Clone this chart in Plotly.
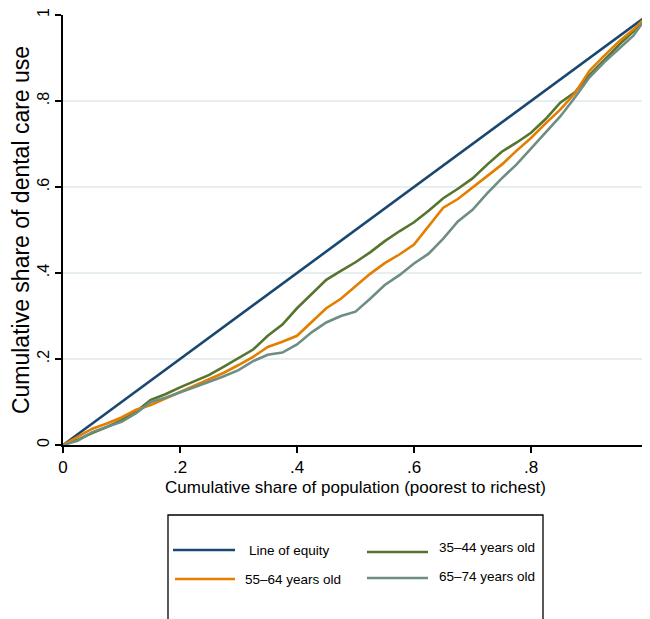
import plotly.graph_objects as go

# ---- data ----
pop_share = [0.0, 0.025, 0.05, 0.075, 0.1, 0.125, 0.15, 0.175, 0.2, 0.225,
             0.25, 0.275, 0.3, 0.325, 0.35, 0.375, 0.4, 0.425, 0.45, 0.475,
             0.5, 0.525, 0.55, 0.575, 0.6, 0.625, 0.65, 0.675, 0.7, 0.725,
             0.75, 0.775, 0.8, 0.825, 0.85, 0.875, 0.9, 0.925, 0.95, 0.975, 1.0]

age_35_44 = [0.0, 0.012, 0.028, 0.042, 0.058, 0.078, 0.105, 0.118, 0.134, 0.148,
             0.163, 0.182, 0.203, 0.222, 0.254, 0.280, 0.318, 0.352, 0.384, 0.405,
             0.425, 0.448, 0.474, 0.497, 0.518, 0.545, 0.574, 0.596, 0.620, 0.652,
             0.682, 0.703, 0.726, 0.758, 0.796, 0.820, 0.860, 0.895, 0.930, 0.962, 1.0]

age_55_64 = [0.0, 0.020, 0.038, 0.050, 0.064, 0.082, 0.093, 0.108, 0.123, 0.138,
             0.152, 0.168, 0.186, 0.205, 0.228, 0.240, 0.254, 0.285, 0.318, 0.340,
             0.368, 0.398, 0.423, 0.443, 0.466, 0.508, 0.552, 0.572, 0.598, 0.625,
             0.652, 0.684, 0.714, 0.748, 0.780, 0.818, 0.870, 0.905, 0.938, 0.966, 1.0]

age_65_74 = [0.0, 0.010, 0.030, 0.042, 0.054, 0.074, 0.100, 0.110, 0.122, 0.135,
             0.147, 0.160, 0.174, 0.195, 0.210, 0.215, 0.234, 0.262, 0.285, 0.300,
             0.310, 0.340, 0.372, 0.395, 0.422, 0.445, 0.480, 0.520, 0.547, 0.585,
             0.620, 0.652, 0.690, 0.728, 0.764, 0.808, 0.855, 0.890, 0.922, 0.952, 1.0]

equity_x = [0.0, 1.0]
equity_y = [0.0, 1.0]

names = ["Line of equity", "35\u201344 years old", "55\u201364 years old", "65\u201374 years old"]
colors = ["#1a476f", "#55752f", "#e37e00", "#6e8e84"]

x_ticks = [0, 0.2, 0.4, 0.6, 0.8, 1]
x_tick_text = ["0", ".2", ".4", ".6", ".8", "1"]
y_ticks = [0, 0.2, 0.4, 0.6, 0.8, 1]
y_tick_text = ["0", ".2", ".4", ".6", ".8", "1"]

FONT = "Liberation Sans, Arial, sans-serif"

fig = go.Figure()
series = [(equity_x, equity_y), (pop_share, age_35_44), (pop_share, age_55_64), (pop_share, age_65_74)]
for (xs, ys), nm, col in zip(series, names, colors):
    fig.add_trace(go.Scatter(x=xs, y=ys, mode="lines", name=nm,
                             line=dict(color=col, width=2.6), showlegend=False))

# the page body adds an 8px offset; compensate so the plot lands where the reference has it
OFF = 8
W, H = 650, 619
SL, ST, SR, SB = 63, 15, 648, 445  # plot area in screen pixels
L, T = SL - OFF, ST - OFF
PW, PH = SR - SL, SB - ST
R = W - L - PW
B = H - T - PH


def px(xp):
    return (xp - SL) / PW


def py(yp):
    return (SB - yp) / PH


shapes = []
annotations = []
# legend frame
shapes.append(dict(type="rect", xref="paper", yref="paper",
                   x0=px(168), x1=px(543), y0=py(640), y1=py(515),
                   line=dict(color="black", width=1.3), fillcolor="rgba(0,0,0,0)"))
legend_pos = [
    (173, 235, 550, 247, 550),
    (367, 428, 552, 437, 547),
    (175, 235, 579, 243, 579),
    (367, 428, 578, 437, 576),
]
for (lx0, lx1, ly, tx, ty), nm, col in zip(legend_pos, names, colors):
    shapes.append(dict(type="line", xref="paper", yref="paper",
                       x0=px(lx0), x1=px(lx1), y0=py(ly), y1=py(ly),
                       line=dict(color=col, width=2.6)))
    annotations.append(dict(xref="paper", yref="paper", x=px(tx), y=py(ty),
                            text=nm, showarrow=False, xanchor="left", yanchor="middle",
                            font=dict(family=FONT, size=13.5, color="black")))

fig.update_layout(
    width=W, height=H,
    margin=dict(l=L, r=R, t=T, b=B),
    paper_bgcolor="white", plot_bgcolor="white",
    font=dict(family=FONT, color="black"),
    shapes=shapes, annotations=annotations,
    xaxis=dict(range=[0, 1], tickvals=x_ticks, ticktext=x_tick_text, automargin=False,
               showgrid=False, zeroline=False, showline=True, linecolor="black", linewidth=2,
               ticks="outside", ticklen=6, tickwidth=1.5, tickcolor="black",
               tickfont=dict(size=17, family=FONT),
               title=dict(text="Cumulative share of population (poorest to richest)",
                          font=dict(size=17, family=FONT), standoff=5)),
    yaxis=dict(range=[0, 1], tickvals=y_ticks, ticktext=y_tick_text, tickangle=-90,
               automargin=False,
               showgrid=True, gridcolor="#e6eef0", gridwidth=1.5,
               zeroline=False, showline=True, linecolor="black", linewidth=2,
               ticks="outside", ticklen=6, tickwidth=1.5, tickcolor="black",
               tickfont=dict(size=16, family=FONT),
               title=dict(text="Cumulative share of dental care use",
                          font=dict(size=23, family=FONT), standoff=4)),
)

fig.write_html("out.html")
